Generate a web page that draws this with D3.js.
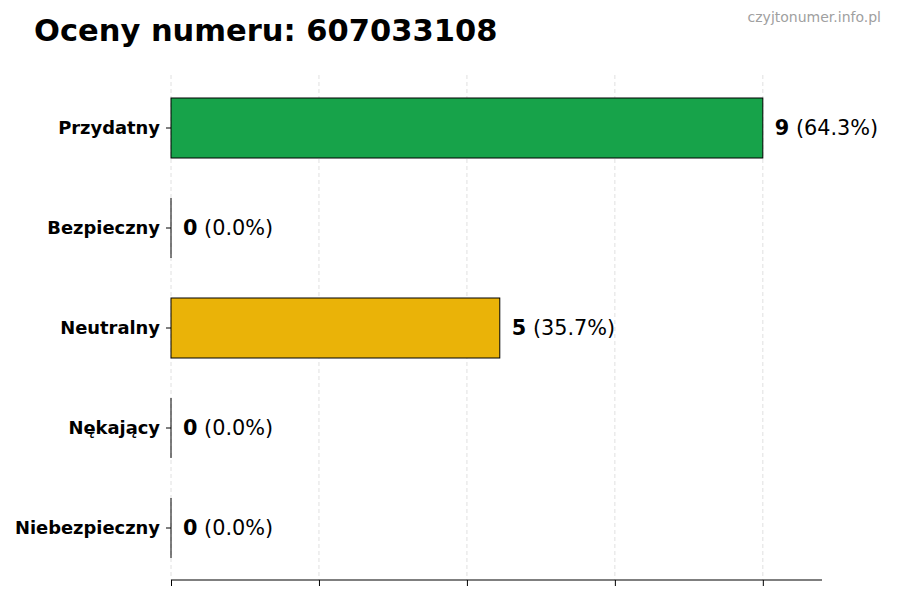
<!doctype html>
<html lang="pl">
<head>
<meta charset="utf-8">
<title>Oceny numeru</title>
<script src="https://cdn.jsdelivr.net/npm/d3@7"></script>
<style>
  body { margin: 0; background: #fff; }
  svg { font-family: "DejaVu Sans", sans-serif; }
</style>
</head>
<body>
<svg id="chart" width="900" height="600"></svg>
<script>
// data
var categories = ["Przydatny", "Bezpieczny", "Neutralny", "Nękający", "Niebezpieczny"];
var counts = [9, 0, 5, 0, 0];
var colors = ["#17a34a", "#17a34a", "#eab308", "#dc2626", "#dc2626"];
var xTicks = [0, 2.25, 4.5, 6.75, 9];

var total = d3.sum(counts);
var svg = d3.select("#chart");

var x = d3.scaleLinear().domain([0, d3.max(counts) * 1.1]).range([171, 822]);
var y = d3.scaleBand().domain(categories).range([78, 578]).paddingInner(0.4).paddingOuter(0.2);

// title + watermark
svg.append("text").attr("x", 34).attr("y", 41)
  .attr("font-size", 30.5).attr("font-weight", "bold").attr("fill", "#000")
  .text("Oceny numeru: 607033108");
svg.append("text").attr("x", 881).attr("y", 22).attr("text-anchor", "end")
  .attr("font-size", 14).attr("fill", "#a0a0a0")
  .text("czyjtonumer.info.pl");

// grid
svg.append("g").selectAll("line").data(xTicks).enter().append("line")
  .attr("x1", function(d) { return x(d); }).attr("x2", function(d) { return x(d); })
  .attr("y1", 75).attr("y2", 580)
  .attr("stroke", "#d8d8d8").attr("stroke-width", 0.8).attr("stroke-dasharray", "4,3");

// bars
svg.append("g").selectAll("rect").data(categories).enter().append("rect")
  .attr("x", x(0))
  .attr("y", function(d) { return y(d); })
  .attr("width", function(d, i) { return x(counts[i]) - x(0); })
  .attr("height", y.bandwidth())
  .attr("fill", function(d, i) { return colors[i]; })
  .attr("stroke", "#000").attr("stroke-width", 1);

// zero-width bars still show their edge
svg.append("g").selectAll("line").data(categories.filter(function(d, i) { return counts[i] === 0; }))
  .enter().append("line")
  .attr("x1", x(0)).attr("x2", x(0))
  .attr("y1", function(d) { return y(d); })
  .attr("y2", function(d) { return y(d) + y.bandwidth(); })
  .attr("stroke", "#000").attr("stroke-width", 1);

// value labels
var lab = svg.append("g").selectAll("text").data(categories).enter().append("text")
  .attr("x", function(d, i) { return x(counts[i]) + 12; })
  .attr("y", function(d) { return y(d) + y.bandwidth() / 2; })
  .attr("dy", "0.35em").attr("font-size", 20.8).attr("fill", "#000");
lab.append("tspan").attr("font-weight", "bold").text(function(d, i) { return counts[i]; });
lab.append("tspan").text(function(d, i) { return " (" + (counts[i] / total * 100).toFixed(1) + "%)"; });

// x axis (no labels)
var xAxis = d3.axisBottom(x).tickValues(xTicks).tickSize(6).tickFormat("");
var gx = svg.append("g").attr("transform", "translate(0,580)").call(xAxis);
gx.select(".domain").attr("d", "M" + x.range()[0] + ",0H" + x.range()[1]).attr("stroke-width", 1.2);

// y axis
var yAxis = d3.axisLeft(y).tickSize(5).tickPadding(6);
var gy = svg.append("g").attr("transform", "translate(171,0)").call(yAxis);
gy.select(".domain").remove();
gy.selectAll("text").attr("font-size", 17.9).attr("font-weight", "bold")
  .attr("font-family", "DejaVu Sans, sans-serif").attr("fill", "#000");
</script>
</body>
</html>
